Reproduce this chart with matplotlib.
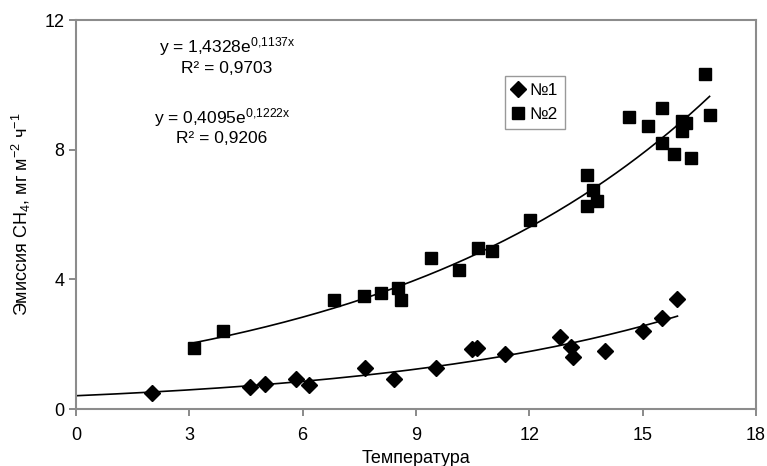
import numpy as np
import matplotlib
matplotlib.use("Agg")
import matplotlib.pyplot as plt

plt.rcParams["font.family"] = ["Liberation Sans", "DejaVu Sans"]
plt.rcParams["mathtext.fontset"] = "custom"
plt.rcParams["mathtext.rm"] = "Liberation Sans"
plt.rcParams["mathtext.it"] = "Liberation Sans"
plt.rcParams["mathtext.default"] = "regular"

# Участок №1
t1 = [2.01, 4.61, 4.99, 5.81, 6.16, 7.66, 8.41, 9.52, 10.49, 10.62, 11.36,
      12.81, 13.11, 13.16, 14.01, 15.01, 15.51, 15.92]
e1 = [0.50, 0.69, 0.76, 0.94, 0.74, 1.27, 0.92, 1.28, 1.84, 1.87, 1.71,
      2.22, 1.90, 1.61, 1.78, 2.40, 2.82, 3.38]

# Участок №2
t2 = [3.11, 3.88, 6.84, 7.62, 8.06, 8.52, 8.61, 9.39, 10.14, 10.64, 11.00,
      12.01, 13.52, 13.52, 13.68, 13.80, 14.64, 15.15, 15.51, 15.51, 15.82,
      16.03, 16.15, 16.03, 16.28, 16.65, 16.77]
e2 = [1.87, 2.40, 3.35, 3.49, 3.58, 3.74, 3.35, 4.67, 4.30, 4.96, 4.89,
      5.82, 7.23, 6.25, 6.75, 6.43, 9.02, 8.74, 9.30, 8.21, 7.86,
      8.87, 8.81, 8.58, 7.74, 10.33, 9.08]

# экспоненциальные тренды y = a*exp(b*x)
a1, b1, r2_1 = 0.4095, 0.1222, 0.9206
a2, b2, r2_2 = 1.4328, 0.1137, 0.9703

x_ticks = [0, 3, 6, 9, 12, 15, 18]
y_ticks = [0, 4, 8, 12]

W, H = 767, 466
fig = plt.figure(figsize=(W / 100, H / 100), dpi=100)
ax = fig.add_axes([0.0991, 0.1223, 0.8866, 0.8347])

xx1 = np.linspace(0, max(t1), 200)
xx2 = np.linspace(min(t2), max(t2), 200)
ax.plot(xx1, a1 * np.exp(b1 * xx1), color="black", lw=1.2, zorder=2)
ax.plot(xx2, a2 * np.exp(b2 * xx2), color="black", lw=1.2, zorder=2)

ax.plot(t1, e1, "D", color="black", ms=8, ls="none", label="№1", zorder=3)
ax.plot(t2, e2, "s", color="black", ms=8, ls="none", label="№2", zorder=3)

ax.set_xlim(0, 18)
ax.set_ylim(0, 12)
ax.set_xticks(x_ticks)
ax.set_yticks(y_ticks)
ax.tick_params(labelsize=13, colors="#808080", length=5, width=1.3,
               direction="out", labelcolor="black")
ax.tick_params(axis="x", pad=8)
for s in ax.spines.values():
    s.set_color("#8c8c8c")
    s.set_linewidth(1.5)

ax.set_xlabel("Температура", fontsize=13, labelpad=4)
ax.set_ylabel("Эмиссия CH$_4$, мг м$^{-2}$ ч$^{-1}$", fontsize=13, labelpad=8)


def label_at(px, py, s):
    # подписи уравнений в пикселях от верхнего левого угла
    fig.text(px / W, 1 - py / H, s, fontsize=12.5, ha="center", va="center")


label_at(227, 47, "y = 1,4328e$^{0{,}1137x}$")
label_at(227, 68, f"R² = {r2_2:.4f}".replace(".", ","))
label_at(222, 118, "y = 0,4095e$^{0{,}1222x}$")
label_at(222, 139, f"R² = {r2_1:.4f}".replace(".", ","))

leg = ax.legend(loc="upper left", bbox_to_anchor=(0.631, 0.856), fontsize=12.5,
                fancybox=False, framealpha=1, edgecolor="#999999",
                handlelength=0.7, handletextpad=0.3, borderpad=0.4,
                labelspacing=0.5, borderaxespad=0)
leg.get_frame().set_linewidth(1.0)

fig.savefig("out.png", dpi=100)
